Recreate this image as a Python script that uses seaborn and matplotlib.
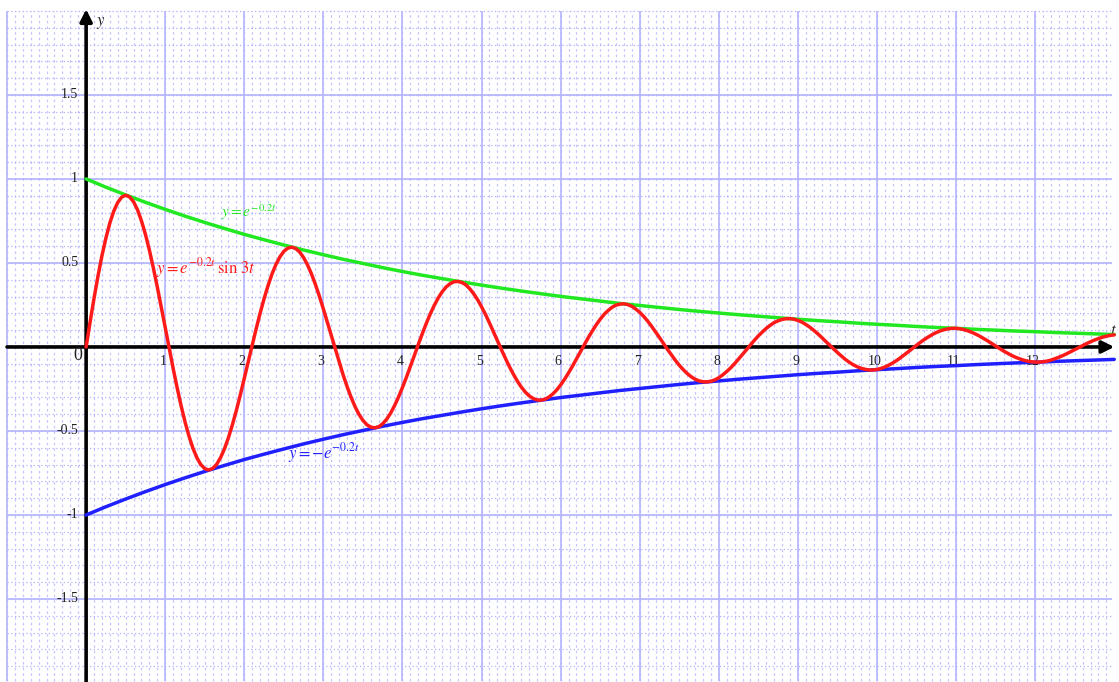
import numpy as np
import matplotlib
matplotlib.use("Agg")
import matplotlib.pyplot as plt
import seaborn as sns

# sample times for the red curve
t_red = [
    0.0, 0.05, 0.1, 0.15, 0.2, 0.25, 0.3, 0.35, 0.4, 0.45, 0.5, 0.55, 0.6, 0.65, 0.7, 0.75, 0.8, 0.85, 0.9, 0.95,
    1.0, 1.05, 1.1, 1.15, 1.2, 1.25, 1.3, 1.35, 1.4, 1.45, 1.5, 1.55, 1.6, 1.65, 1.7, 1.75, 1.8, 1.85, 1.9, 1.95,
    2.0, 2.05, 2.1, 2.15, 2.2, 2.25, 2.3, 2.35, 2.4, 2.45, 2.5, 2.55, 2.6, 2.65, 2.7, 2.75, 2.8, 2.85, 2.9, 2.95,
    3.0, 3.05, 3.1, 3.15, 3.2, 3.25, 3.3, 3.35, 3.4, 3.45, 3.5, 3.55, 3.6, 3.65, 3.7, 3.75, 3.8, 3.85, 3.9, 3.95,
    4.0, 4.05, 4.1, 4.15, 4.2, 4.25, 4.3, 4.35, 4.4, 4.45, 4.5, 4.55, 4.6, 4.65, 4.7, 4.75, 4.8, 4.85, 4.9, 4.95,
    5.0, 5.05, 5.1, 5.15, 5.2, 5.25, 5.3, 5.35, 5.4, 5.45, 5.5, 5.55, 5.6, 5.65, 5.7, 5.75, 5.8, 5.85, 5.9, 5.95,
    6.0, 6.05, 6.1, 6.15, 6.2, 6.25, 6.3, 6.35, 6.4, 6.45, 6.5, 6.55, 6.6, 6.65, 6.7, 6.75, 6.8, 6.85, 6.9, 6.95,
    7.0, 7.05, 7.1, 7.15, 7.2, 7.25, 7.3, 7.35, 7.4, 7.45, 7.5, 7.55, 7.6, 7.65, 7.7, 7.75, 7.8, 7.85, 7.9, 7.95,
    8.0, 8.05, 8.1, 8.15, 8.2, 8.25, 8.3, 8.35, 8.4, 8.45, 8.5, 8.55, 8.6, 8.65, 8.7, 8.75, 8.8, 8.85, 8.9, 8.95,
    9.0, 9.05, 9.1, 9.15, 9.2, 9.25, 9.3, 9.35, 9.4, 9.45, 9.5, 9.55, 9.6, 9.65, 9.7, 9.75, 9.8, 9.85, 9.9, 9.95,
    10.0, 10.05, 10.1, 10.15, 10.2, 10.25, 10.3, 10.35, 10.4, 10.45, 10.5, 10.55, 10.6, 10.65, 10.7, 10.75, 10.8, 10.85, 10.9, 10.95,
    11.0, 11.05, 11.1, 11.15, 11.2, 11.25, 11.3, 11.35, 11.4, 11.45, 11.5, 11.55, 11.6, 11.65, 11.7, 11.75, 11.8, 11.85, 11.9, 11.95,
    12.0, 12.05, 12.1, 12.15, 12.2, 12.25, 12.3, 12.35, 12.4, 12.45, 12.5, 12.55, 12.6, 12.65, 12.7, 12.75, 12.8, 12.85, 12.9, 12.95,
    13.0,
]
# y = e^(-0.2t) sin 3t, in thousandths
y_red_milli = [
    0, 148, 290, 422, 543, 648, 738, 809, 860, 892, 903, 893, 864, 816, 750, 670, 576, 470, 357, 238,
    116, -7, -127, -241, -348, -445, -530, -602, -659, -700, -724, -732, -723, -699, -659, -605, -539, -462, -377, -284,
    -187, -88, 11, 108, 201, 287, 365, 434, 491, 536, 569, 588, 594, 586, 565, 532, 488, 434, 371, 301,
    226, 147, 67, -13, -92, -167, -236, -299, -355, -401, -437, -463, -477, -481, -475, -457, -430, -394, -349, -298,
    -241, -180, -116, -51, 15, 78, 139, 195, 246, 290, 327, 356, 376, 388, 390, 384, 370, 347, 317, 281,
    239, 193, 143, 91, 38, -15, -66, -115, -160, -201, -237, -267, -290, -306, -315, -317, -311, -299, -280, -256,
    -226, -192, -154, -114, -71, -28, 14, 56, 95, 132, 165, 194, 217, 236, 249, 255, 257, 252, 242, 226,
    206, 182, 154, 123, 90, 56, 21, -14, -47, -79, -109, -135, -158, -177, -192, -202, -207, -208, -204, -196,
    -183, -166, -146, -124, -99, -72, -44, -16, 13, 40, 66, 89, 111, 129, 145, 156, 164, 168, 169, 165,
    158, 148, 134, 118, 99, 79, 57, 34, 11, -11, -33, -54, -74, -91, -106, -118, -127, -133, -137, -137,
    -134, -128, -119, -108, -95, -80, -63, -45, -27, -8, 10, 28, 45, 60, 74, 86, 96, 103, 108, 111,
    111, 108, 103, 96, 87, 76, 64, 50, 36, 21, 6, -9, -24, -37, -50, -61, -70, -78, -84, -88,
    -90, -90, -88, -84, -78, -70, -61, -51, -40, -28, -16, -4, 8, 20, 31, 41, 50, 58, 64, 69,
    72,
]
y_red = [v / 1000 for v in y_red_milli]

# envelopes
t_env = [
    0.0, 0.25, 0.5, 0.75, 1.0, 1.25, 1.5, 1.75, 2.0, 2.25, 2.5, 2.75, 3.0, 3.25, 3.5, 3.75, 4.0, 4.25,
    4.5, 4.75, 5.0, 5.25, 5.5, 5.75, 6.0, 6.25, 6.5, 6.75, 7.0, 7.25, 7.5, 7.75, 8.0, 8.25, 8.5, 8.75,
    9.0, 9.25, 9.5, 9.75, 10.0, 10.25, 10.5, 10.75, 11.0, 11.25, 11.5, 11.75, 12.0, 12.25, 12.5, 12.75, 13.0,
]
y_green = [
    1.0, 0.951, 0.905, 0.861, 0.819, 0.779, 0.741, 0.705, 0.67, 0.638, 0.607, 0.577, 0.549, 0.522, 0.497,
    0.472, 0.449, 0.427, 0.407, 0.387, 0.368, 0.35, 0.333, 0.317, 0.301, 0.287, 0.273, 0.259, 0.247, 0.235,
    0.223, 0.212, 0.202, 0.192, 0.183, 0.174, 0.165, 0.157, 0.15, 0.142, 0.135, 0.129, 0.122, 0.116, 0.111,
    0.105, 0.1, 0.095, 0.091, 0.086, 0.082, 0.078, 0.074,
]
y_blue = [
    -1.0, -0.951, -0.905, -0.861, -0.819, -0.779, -0.741, -0.705, -0.67, -0.638, -0.607, -0.577, -0.549, -0.522, -0.497,
    -0.472, -0.449, -0.427, -0.407, -0.387, -0.368, -0.35, -0.333, -0.317, -0.301, -0.287, -0.273, -0.259, -0.247, -0.235,
    -0.223, -0.212, -0.202, -0.192, -0.183, -0.174, -0.165, -0.157, -0.15, -0.142, -0.135, -0.129, -0.122, -0.116, -0.111,
    -0.105, -0.1, -0.095, -0.091, -0.086, -0.082, -0.078, -0.074,
]

x_ticks = [1, 2, 3, 4, 5, 6, 7, 8, 9, 10, 11, 12]
y_ticks = [1.5, 1, 0.5, -0.5, -1, -1.5]
y_tick_labels = ["1.5", "1", "0.5", "-0.5", "-1", "-1.5"]

sns.set_theme(style="white")
plt.rcParams["font.family"] = ["Liberation Serif", "DejaVu Serif"]
plt.rcParams["mathtext.fontset"] = "stix"

fig, ax = plt.subplots(figsize=(11.19, 6.82), dpi=100)
fig.subplots_adjust(0, 0, 1, 1)
ax.set_xlim(-1.089, 13.06)
ax.set_ylim(-1.994, 2.065)
ax.axis("off")

# graph paper
gx0, gx1, gy0, gy1 = -1.0, 12.97, -1.99, 2.0
minor_x = np.round(np.arange(-1.0, 12.96, 0.1), 2)
minor_y = np.round(np.arange(-1.9, 2.01, 0.1), 2)
ax.vlines(minor_x, gy0, gy1, colors="#c4c4ff", lw=0.9, ls=(0, (2, 2.5)), zorder=0)
ax.hlines(minor_y, gx0, gx1, colors="#b0b0ff", lw=0.9, ls=(0, (1, 2)), zorder=0)
ax.vlines(np.arange(-1, 13), gy0, gy1, colors="#b4b4ff", lw=1.2, zorder=0.5)
ax.hlines([-1.5, -1, -0.5, 0.5, 1, 1.5], gx0, gx1, colors="#b4b4ff", lw=1.2, zorder=0.5)

# axes with arrows
ax.annotate("", xy=(13.0, 0), xytext=(-1.0, 0),
            arrowprops=dict(arrowstyle="-|>", color="black", lw=2.6,
                            mutation_scale=18, shrinkA=0, shrinkB=0), zorder=3)
ax.annotate("", xy=(0, 2.01), xytext=(0, -2.1),
            arrowprops=dict(arrowstyle="-|>", color="black", lw=2.6,
                            mutation_scale=18, shrinkA=0, shrinkB=0), zorder=3)

sns.lineplot(x=t_env, y=y_green, color="#22e822", lw=2.5, sort=False, ax=ax, zorder=4)
sns.lineplot(x=t_env, y=y_blue, color="#2020ff", lw=2.5, sort=False, ax=ax, zorder=4)
sns.lineplot(x=t_red, y=y_red, color="#ff1a1a", lw=2.5, sort=False, ax=ax, zorder=5)

for xt in x_ticks:
    ax.text(xt - 0.03, -0.085, str(xt), ha="center", va="center", fontsize=10, color="#222222")
for yt, lab in zip(y_ticks, y_tick_labels):
    ax.text(-0.1, yt, lab, ha="right", va="center", fontsize=10, color="#222222")
ax.text(-0.1, -0.05, "0", ha="center", va="center", fontsize=13, color="#222222")
ax.text(0.12, 1.93, "$y$", ha="left", va="center", fontsize=12)
ax.text(12.95, 0.05, "$t$", ha="left", va="bottom", fontsize=12)

ax.text(1.7, 0.8, r"$y=e^{-0.2t}$", color="#22e822", fontsize=11, ha="left", va="center")
ax.text(0.88, 0.47, r"$y=e^{-0.2t}\,\sin\,3t$", color="#ff1a1a", fontsize=12, ha="left", va="center")
ax.text(2.55, -0.63, r"$y=-e^{-0.2t}$", color="#2020ff", fontsize=12, ha="left", va="center")

fig.savefig("out.png", dpi=100)
